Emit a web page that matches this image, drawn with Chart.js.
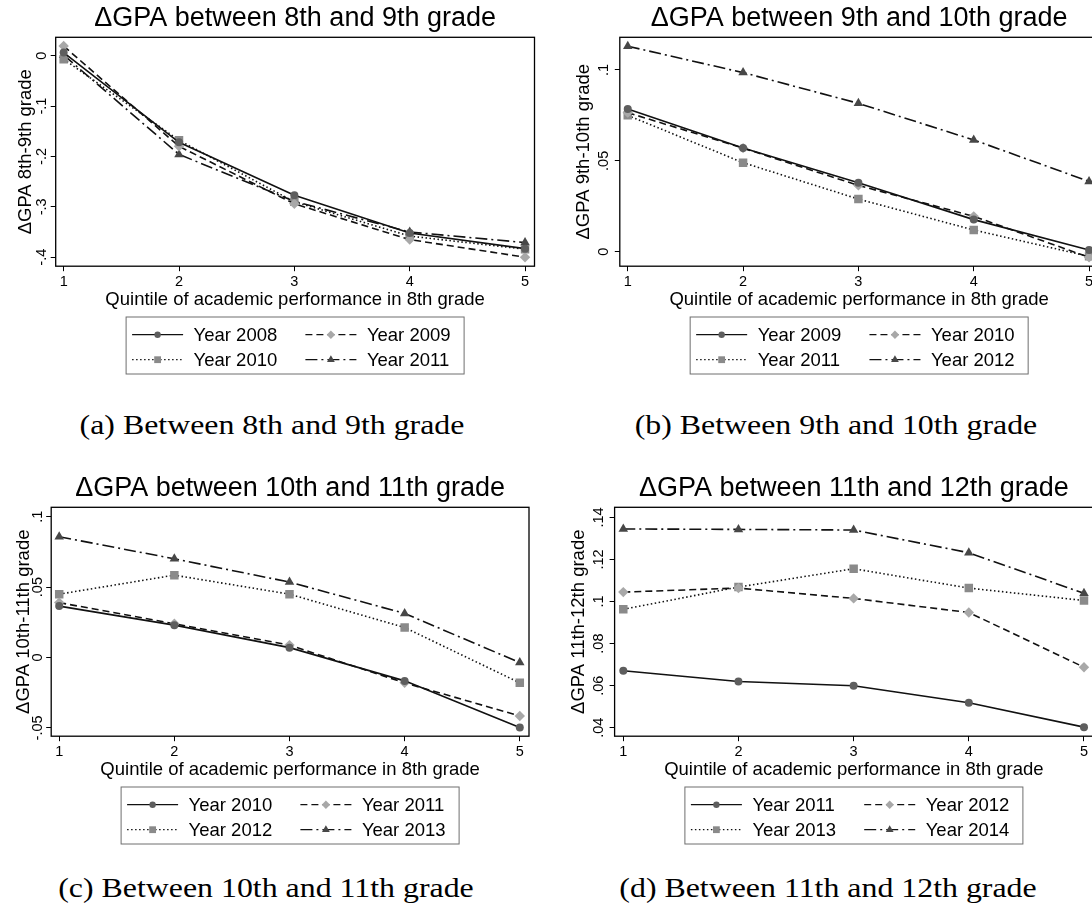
<!DOCTYPE html>
<html>
<head>
<meta charset="utf-8">
<script src="https://cdn.jsdelivr.net/npm/chart.js@4/dist/chart.umd.min.js"></script>
<style>
  html, body { margin: 0; padding: 0; background: #fff; }
  #wrap { position: relative; width: 1092px; height: 911px; overflow: hidden; background: #fff; }
  #wrap canvas { position: absolute; }
  .cap { position: absolute; width: 460px; text-align: center; font-family: 'Liberation Serif', serif;
         font-size: 27px; line-height: 32px; color: #000; transform: scaleX(1.18); white-space: nowrap; }
</style>
</head>
<body>
<div id="wrap">
  <canvas id="pa" width="546" height="385" style="left:0;top:0"></canvas>
  <canvas id="pb" width="546" height="385" style="left:564px;top:0"></canvas>
  <canvas id="pc" width="546" height="385" style="left:0;top:470px"></canvas>
  <canvas id="pd" width="546" height="385" style="left:559px;top:470px"></canvas>
  <div class="cap" style="left:41.6px;top:409px">(a) Between 8th and 9th grade</div>
  <div class="cap" style="left:605.6px;top:409px">(b) Between 9th and 10th grade</div>
  <div class="cap" style="left:36px;top:872px">(c) Between 10th and 11th grade</div>
  <div class="cap" style="left:598px;top:872px">(d) Between 11th and 12th grade</div>
</div>
<script>
// x axis: quintile of academic performance in 8th grade
var quintiles = [1, 2, 3, 4, 5];

// (a) 8th -> 9th grade
var aYears = ['Year 2008', 'Year 2009', 'Year 2010', 'Year 2011'];
var a2008 = [0.006, -0.172, -0.277, -0.352, -0.383];
var a2009 = [0.019, -0.180, -0.294, -0.365, -0.400];
var a2010 = [-0.007, -0.168, -0.290, -0.358, -0.384];
var a2011 = [0.001, -0.196, -0.289, -0.350, -0.371];
var aTicks = [-0.4, -0.3, -0.2, -0.1, 0];

// (b) 9th -> 10th grade
var bYears = ['Year 2009', 'Year 2010', 'Year 2011', 'Year 2012'];
var b2009 = [0.0785, 0.057, 0.038, 0.0177, 0.001];
var b2010 = [0.0765, 0.057, 0.0365, 0.0195, -0.003];
var b2011 = [0.075, 0.049, 0.029, 0.012, -0.0025];
var b2012 = [0.113, 0.0985, 0.0816, 0.0615, 0.0387];
var bTicks = [0, 0.05, 0.1];

// (c) 10th -> 11th grade
var cYears = ['Year 2010', 'Year 2011', 'Year 2012', 'Year 2013'];
var c2010 = [0.0365, 0.023, 0.007, -0.0166, -0.0498];
var c2011 = [0.039, 0.024, 0.0088, -0.018, -0.0415];
var c2012 = [0.045, 0.0585, 0.045, 0.0213, -0.018];
var c2013 = [0.0858, 0.0701, 0.0536, 0.0313, -0.0036];
var cTicks = [-0.05, 0, 0.05, 0.1];

// (d) 11th -> 12th grade
var dYears = ['Year 2011', 'Year 2012', 'Year 2013', 'Year 2014'];
var d2011 = [0.0671, 0.062, 0.060, 0.0519, 0.0403];
var d2012 = [0.1045, 0.1064, 0.1015, 0.0948, 0.0688];
var d2013 = [0.0963, 0.1069, 0.1156, 0.1064, 0.1005];
var d2014 = [0.1345, 0.1343, 0.134, 0.1232, 0.1039];
var dTicks = [0.04, 0.06, 0.08, 0.1, 0.12, 0.14];

// stata-like mono styles, one per series
var styles = [
  { dash: [], point: 'circle', radius: 4, legR: 3.2, fill: '#5e5e5e' },
  { dash: [7, 4], point: 'rectRot', radius: 5.2, legR: 4.2, fill: '#a8a8a8' },
  { dash: [1.5, 2.5], point: 'rect', radius: 6, legR: 4.8, fill: '#8a8a8a' },
  { dash: [12, 4, 2, 4], point: 'triangle', radius: 5.5, legR: 4.5, fill: '#474747' }
];

Chart.defaults.font.family = "'Liberation Sans', Arial, sans-serif";
Chart.defaults.color = '#000';

function fmt(v) {
  var s = String(Math.round(v * 1000) / 1000);
  return s.replace(/^(-?)0\./, '$1.');
}

// box around the plot region
var framePlugin = {
  id: 'frame',
  afterDatasetsDraw: function (chart) {
    var a = chart.chartArea, c = chart.ctx;
    c.save();
    c.strokeStyle = '#000';
    c.lineWidth = 1.3;
    c.strokeRect(a.left, a.top, a.right - a.left, a.bottom - a.top);
    c.restore();
  }
};

// 2x2 legend in a box under the x title
var legendPlugin = {
  id: 'boxLegend',
  afterDraw: function (chart) {
    var a = chart.chartArea, c = chart.ctx;
    var w = 338, h = 57;
    var left = (a.left + a.right) / 2 - w / 2, top = a.bottom + 50.8;
    c.save();
    c.strokeStyle = '#6e6e6e';
    c.lineWidth = 1;
    c.strokeRect(left, top, w, h);
    c.font = "18.5px 'Liberation Sans'";
    c.textBaseline = 'middle';
    chart.data.datasets.forEach(function (ds, i) {
      var col = i % 2, row = Math.floor(i / 2);
      var y = top + (row ? 42.7 : 17.7);
      var x0 = left + (col ? 179.3 : 6), x1 = x0 + 51;
      c.strokeStyle = ds.borderColor;
      c.lineWidth = 1.3;
      c.setLineDash(ds.borderDash);
      c.beginPath(); c.moveTo(x0, y); c.lineTo(x1, y); c.stroke();
      c.setLineDash([]);
      c.fillStyle = ds.pointBackgroundColor;
      Chart.helpers.drawPoint(c, { pointStyle: ds.pointStyle, radius: styles[i].legR, rotation: 0, borderWidth: 0 }, (x0 + x1) / 2, y);
      c.fillStyle = '#000';
      c.fillText(ds.label, x0 + 61.5, y + 1);
    });
    c.restore();
  }
};

function makePanel(id, title, yTitle, years, series, yTicks, o) {
  var axisGrid = { drawOnChartArea: false, drawTicks: true, tickLength: 5, tickColor: '#000', tickWidth: 1 };
  return new Chart(document.getElementById(id), {
    type: 'line',
    data: {
      datasets: series.map(function (vals, i) {
        return {
          label: years[i],
          data: quintiles.map(function (q, k) { return { x: q, y: vals[k] }; }),
          borderColor: '#111',
          borderWidth: 1.6,
          borderDash: styles[i].dash,
          pointStyle: styles[i].point,
          pointRadius: styles[i].radius,
          pointBackgroundColor: styles[i].fill,
          pointBorderColor: styles[i].fill,
          pointBorderWidth: 0,
          tension: 0
        };
      })
    },
    options: {
      responsive: false,
      animation: false,
      devicePixelRatio: 1,
      layout: { padding: { left: 0, right: o.padRight, top: 0, bottom: 70.8 } },
      plugins: {
        legend: { display: false },
        tooltip: { enabled: false },
        title: { display: true, fullSize: false, text: title, color: '#000', font: { size: 27, weight: 'normal' }, padding: { top: 2.5, bottom: 2.4 } }
      },
      scales: {
        x: {
          type: 'linear', min: o.xMin, max: o.xMax,
          afterBuildTicks: function (s) { s.ticks = quintiles.map(function (v) { return { value: v }; }); },
          afterFit: function (s) { s.height = 48; },
          grid: axisGrid,
          border: { display: false },
          ticks: { font: { size: 14.5 }, color: '#000', padding: 2, maxRotation: 0, autoSkip: false },
          title: { display: true, text: 'Quintile of academic performance in 8th grade', color: '#000', font: { size: 18.5 }, padding: { top: 0, bottom: 3.1 } }
        },
        y: {
          type: 'linear', min: o.yMin, max: o.yMax,
          afterBuildTicks: function (s) { s.ticks = yTicks.map(function (v) { return { value: v }; }); },
          afterFit: function (s) { s.width = o.yAxisW; },
          grid: axisGrid,
          border: { display: false },
          ticks: { font: { size: 14.5 }, color: '#000', padding: o.yTickPad, minRotation: 90, maxRotation: 90, crossAlign: 'center', autoSkip: false,
                   callback: function (v) { return fmt(v); } },
          title: { display: true, text: yTitle, color: '#000', font: { size: 18.5 }, padding: { top: o.yTitlePad, bottom: 0 } }
        }
      }
    },
    plugins: [framePlugin, legendPlugin]
  });
}

makePanel('pa', '\u0394GPA between 8th and 9th grade', '\u0394GPA 8th-9th grade', aYears,
  [a2008, a2009, a2010, a2011], aTicks,
  { xMin: 0.931, xMax: 5.082, yMin: -0.4178, yMax: 0.0364, yAxisW: 55.7, yTitlePad: 14.9, yTickPad: 0.5, padRight: 11.5 });

makePanel('pb', '\u0394GPA between 9th and 10th grade', '\u0394GPA 9th-10th grade', bYears,
  [b2009, b2010, b2011, b2012], bTicks,
  { xMin: 0.931, xMax: 5.082, yMin: -0.0079, yMax: 0.1179, yAxisW: 55.8, yTitlePad: 9.2, yTickPad: 0.5, padRight: 11.5 });

makePanel('pc', '\u0394GPA between 10th and 11th grade', '\u0394GPA 10th-11th grade', cYears,
  [c2010, c2011, c2012, c2013], cTicks,
  { xMin: 0.9305, xMax: 5.08, yMin: -0.0559, yMax: 0.1067, yAxisW: 51.2, yTitlePad: 12.4, yTickPad: -4, padRight: 17 });

makePanel('pd', '\u0394GPA between 11th and 12th grade', '\u0394GPA 11th-12th grade', dYears,
  [d2011, d2012, d2013, d2014], dTicks,
  { xMin: 0.9245, xMax: 5.08, yMin: 0.036, yMax: 0.1448, yAxisW: 55.6, yTitlePad: 8.9, yTickPad: 0.5, padRight: 11.8 });
</script>
</body>
</html>
